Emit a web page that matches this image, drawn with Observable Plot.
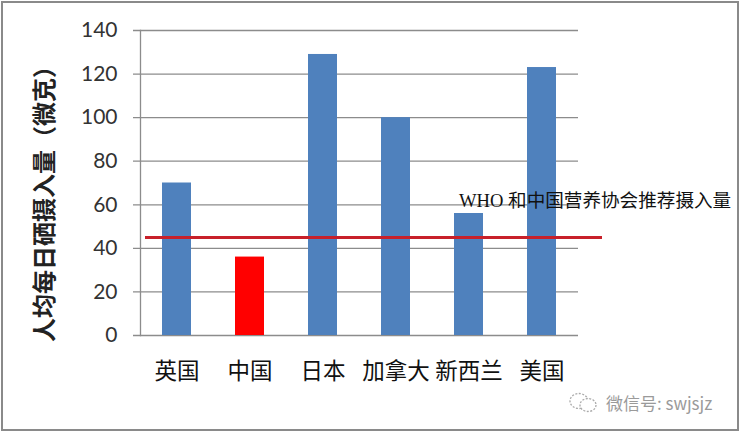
<!DOCTYPE html>
<html>
<head>
<meta charset="utf-8">
<script src="https://cdn.jsdelivr.net/npm/d3@7"></script>
<script src="https://cdn.jsdelivr.net/npm/@observablehq/plot@0.6"></script>
<style>
  html, body { margin: 0; padding: 0; background: #fff; }
  #wrap { position: relative; width: 740px; height: 433px; overflow: hidden; background: #fff; }
  #border { position: absolute; left: 1px; top: 1px; width: 734px; height: 426px; border: 2px solid #8a8a8a; pointer-events: none; }
  #chart { position: absolute; left: 0; top: 0; }
  #wm { position: absolute; left: 568px; top: 390px; display: flex; align-items: center; gap: 6px;
        font-family: "Noto Sans CJK SC", "Noto Sans", sans-serif; font-size: 17px; color: #9a9a9a; }
</style>
</head>
<body>
<div id="wrap">
  <div id="chart"></div>
  <div id="border"></div>
  <div id="wm">
    <svg width="32" height="24" viewBox="0 0 32 24">
      <ellipse cx="11" cy="10" rx="9" ry="7.5" fill="none" stroke="#aaa" stroke-width="1.3" stroke-dasharray="2 1.5"/>
      <ellipse cx="20" cy="14" rx="8" ry="6.5" fill="#fff" stroke="#aaa" stroke-width="1.3" stroke-dasharray="2 1.5"/>
    </svg>
    <span>微信号: swjsjz</span>
  </div>
</div>
<script>
const countries = ["英国", "中国", "日本", "加拿大", "新西兰", "美国"];
const values = [70, 36, 129, 100, 56, 123];
const yTicks = [0, 20, 40, 60, 80, 100, 120, 140];
const recommended = 45;
const refLabel = "WHO 和中国营养协会推荐摄入量";
const yTitle = "人均每日硒摄入量（微克）";
const highlight = "中国";

const data = countries.map((c, i) => ({country: c, value: values[i]}));

const chart = Plot.plot({
  width: 740,
  height: 433,
  marginLeft: 140,
  marginRight: 162,
  marginTop: 30,
  marginBottom: 98,
  style: {background: "transparent", fontFamily: "'Noto Sans CJK SC', sans-serif", overflow: "hidden"},
  x: {domain: countries, paddingInner: 0.6, paddingOuter: 0.3, label: null},
  y: {domain: [0, 140], ticks: yTicks, label: null},
  marks: [
    Plot.ruleY(yTicks, {stroke: "#8c8c8c", strokeWidth: 1.3, insetLeft: -7}),
    Plot.frame({anchor: "left", stroke: "#8c8c8c", strokeWidth: 1.3}),
    Plot.barY(data, {x: "country", y: "value", fill: d => d.country === highlight ? "#ff0000" : "#4f81bd"}),
    Plot.ruleY([recommended], {stroke: "#c8202a", strokeWidth: 3, insetLeft: 5, insetRight: -24}),
    Plot.text([refLabel], {
      x: () => "新西兰", y: () => 61.5, text: d => d, textAnchor: "start", dx: -10,
      fontSize: 18.6, fill: "#111", fontFamily: "'Liberation Serif', 'Noto Sans CJK SC', serif"
    }),
    Plot.text([yTitle], {
      frameAnchor: "left", textAnchor: "middle", rotate: -90, text: d => d, dx: -95, dy: 15,
      fontSize: 24, fontWeight: "bold", fill: "#222"
    }),
    Plot.axisY({ticks: yTicks, tickSize: 0, tickPadding: 23, fontSize: 21, fill: "#333",
      fontFamily: "Lato, 'Open Sans', sans-serif"}),
    Plot.axisX({tickSize: 0, tickPadding: 28, fontSize: 22.5, fill: "#111"})
  ]
});
document.getElementById("chart").appendChild(chart);
</script>
</body>
</html>
